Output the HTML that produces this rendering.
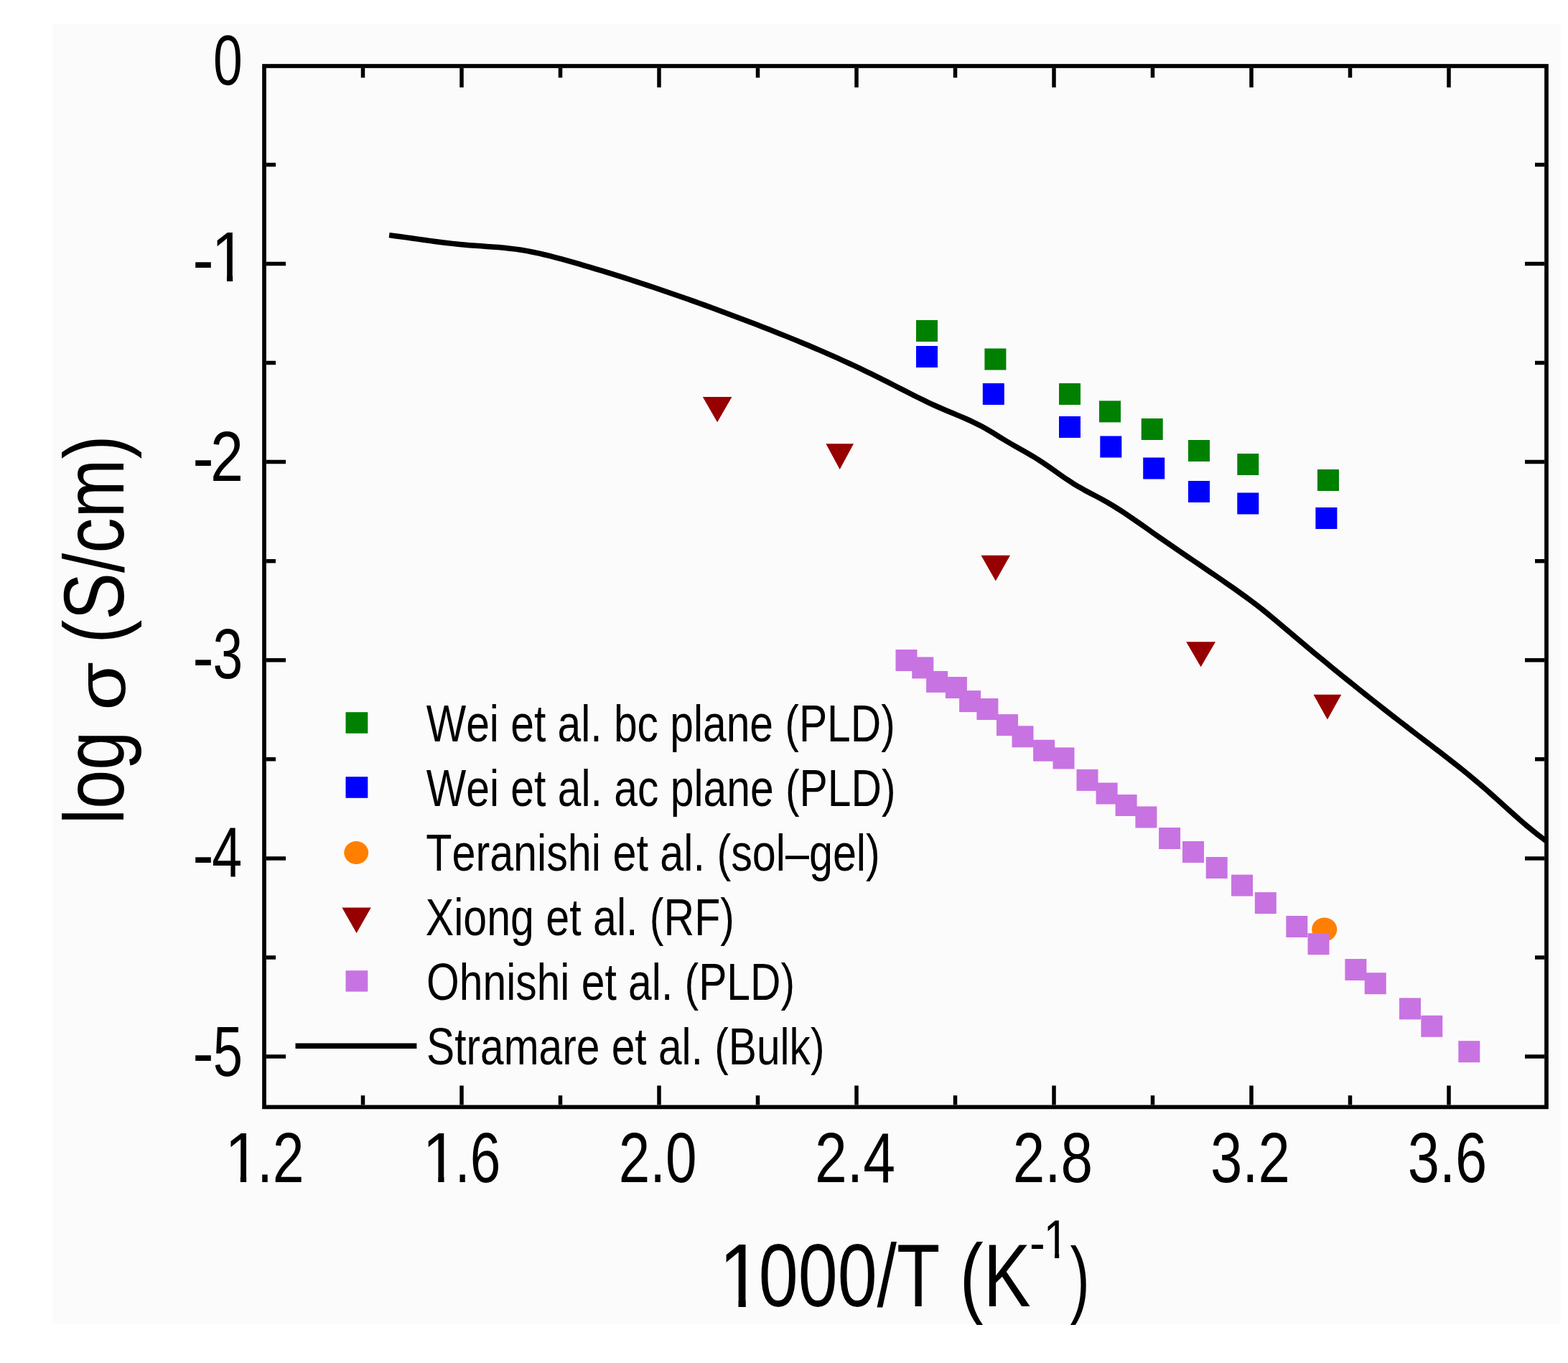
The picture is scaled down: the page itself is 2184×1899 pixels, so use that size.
<!DOCTYPE html>
<html><head><meta charset="utf-8"><title>log sigma vs 1000/T</title>
<style>
html,body{margin:0;padding:0;background:#fff;}
svg{display:block;}
text{font-family:"Liberation Sans",Arial,sans-serif;fill:#000;font-kerning:none;}
</style></head><body>
<svg width="2184" height="1899" viewBox="0 0 2184 1899">
<defs>
<clipPath id="c0"><rect x="294.40" y="315.90" width="37.50" height="67.32"/><rect x="315.95" y="315.90" width="8.20" height="83.80"/></clipPath>
<clipPath id="c1"><rect x="313.10" y="1570.70" width="37.80" height="67.59"/><rect x="334.84" y="1570.70" width="8.31" height="84.10"/></clipPath>
<clipPath id="c2"><rect x="588.50" y="1570.70" width="37.80" height="67.59"/><rect x="610.24" y="1570.70" width="8.31" height="84.10"/></clipPath>
<clipPath id="c3"><rect x="1003.30" y="1726.20" width="43.20" height="83.95"/><rect x="1028.50" y="1726.20" width="10.25" height="102.80"/></clipPath>
<clipPath id="c4"><rect x="1451.40" y="1693.20" width="31.50" height="53.41"/><rect x="1469.10" y="1693.20" width="6.05" height="67.90"/></clipPath>
</defs>
<rect x="0" y="0" width="2184" height="1899" fill="#ffffff"/>
<rect x="73" y="33" width="2101" height="1812" fill="#fcfbfc"/>
<path d="M542.1,327.62 L550.1,328.66 L558.1,329.73 L566.1,330.84 L574.1,331.96 L582.1,333.1 L590.1,334.23 L598.1,335.34 L606.1,336.42 L614.1,337.47 L622.1,338.46 L630.1,339.39 L638.1,340.24 L646.1,341.0 L654.1,341.67 L662.1,342.28 L670.1,342.84 L678.1,343.39 L686.1,343.97 L694.1,344.61 L702.1,345.32 L710.1,346.16 L718.1,347.14 L726.1,348.31 L734.1,349.66 L742.1,351.2 L750.1,352.9 L758.1,354.74 L766.1,356.7 L774.1,358.77 L782.1,360.92 L790.1,363.14 L798.1,365.41 L806.1,367.71 L814.1,370.04 L822.1,372.4 L830.1,374.79 L838.1,377.21 L846.1,379.66 L854.1,382.14 L862.1,384.65 L870.1,387.19 L878.1,389.75 L886.1,392.34 L894.1,394.96 L902.1,397.6 L910.1,400.27 L918.1,402.96 L926.1,405.68 L934.1,408.43 L942.1,411.2 L950.1,413.99 L958.1,416.81 L966.1,419.65 L974.1,422.51 L982.1,425.4 L990.1,428.31 L998.1,431.24 L1006.1,434.19 L1014.1,437.17 L1022.1,440.16 L1030.1,443.18 L1038.1,446.21 L1046.1,449.27 L1054.1,452.34 L1062.1,455.44 L1070.1,458.57 L1078.1,461.72 L1086.1,464.9 L1094.1,468.12 L1102.1,471.36 L1110.1,474.64 L1118.1,477.96 L1126.1,481.31 L1134.1,484.7 L1142.1,488.13 L1150.1,491.61 L1158.1,495.13 L1166.1,498.69 L1174.1,502.31 L1182.1,505.97 L1190.1,509.68 L1198.1,513.45 L1206.1,517.27 L1214.1,521.15 L1222.1,525.09 L1230.1,529.09 L1238.1,533.15 L1246.1,537.24 L1254.1,541.35 L1262.1,545.45 L1270.1,549.51 L1278.1,553.52 L1286.1,557.45 L1294.1,561.28 L1302.1,564.98 L1310.1,568.53 L1318.1,571.95 L1326.1,575.28 L1334.1,578.62 L1342.1,582.02 L1350.1,585.55 L1358.1,589.29 L1366.1,593.31 L1374.1,597.67 L1382.1,602.44 L1390.1,607.46 L1398.1,612.41 L1406.1,617.14 L1414.1,621.7 L1422.1,626.2 L1430.1,630.73 L1438.1,635.41 L1446.1,640.34 L1454.1,645.6 L1462.1,651.13 L1470.1,656.79 L1478.1,662.45 L1486.1,667.98 L1494.1,673.24 L1502.1,678.1 L1510.1,682.58 L1518.1,686.83 L1526.1,691.0 L1534.1,695.25 L1542.1,699.74 L1550.1,704.5 L1558.1,709.51 L1566.1,714.71 L1574.1,720.08 L1582.1,725.57 L1590.1,731.16 L1598.1,736.8 L1606.1,742.46 L1614.1,748.09 L1622.1,753.67 L1630.1,759.2 L1638.1,764.69 L1646.1,770.15 L1654.1,775.58 L1662.1,781.01 L1670.1,786.42 L1678.1,791.85 L1686.1,797.29 L1694.1,802.75 L1702.1,808.25 L1710.1,813.8 L1718.1,819.4 L1726.1,825.07 L1734.1,830.84 L1742.1,836.74 L1750.1,842.8 L1758.1,849.07 L1766.1,855.53 L1774.1,862.16 L1782.1,868.89 L1790.1,875.68 L1798.1,882.46 L1806.1,889.22 L1814.1,895.94 L1822.1,902.62 L1830.1,909.27 L1838.1,915.89 L1846.1,922.48 L1854.1,929.03 L1862.1,935.56 L1870.1,942.05 L1878.1,948.51 L1886.1,954.95 L1894.1,961.35 L1902.1,967.72 L1910.1,974.07 L1918.1,980.39 L1926.1,986.68 L1934.1,992.94 L1942.1,999.17 L1950.1,1005.38 L1958.1,1011.57 L1966.1,1017.73 L1974.1,1023.86 L1982.1,1029.97 L1990.1,1036.07 L1998.1,1042.18 L2006.1,1048.31 L2014.1,1054.48 L2022.1,1060.71 L2030.1,1067.02 L2038.1,1073.42 L2046.1,1079.93 L2054.1,1086.56 L2062.1,1093.34 L2070.1,1100.28 L2078.1,1107.38 L2086.1,1114.56 L2094.1,1121.79 L2102.1,1129.02 L2110.1,1136.17 L2118.1,1143.21 L2126.1,1150.08 L2134.1,1156.73 L2142.1,1163.09 L2150.1,1169.13 L2154.0,1171.93" fill="none" stroke="#000" stroke-width="7.5" stroke-linejoin="round"/>
<rect x="368.0" y="92.0" width="1786.0" height="1450.4" fill="none" stroke="#000" stroke-width="5.7"/>
<path d="M505.5,1539.6000000000001V1526.2M505.5,94.8V108.2M643.0,1539.6000000000001V1512.6000000000001M643.0,94.8V121.8M780.5,1539.6000000000001V1526.2M780.5,94.8V108.2M918.0,1539.6000000000001V1512.6000000000001M918.0,94.8V121.8M1055.5,1539.6000000000001V1526.2M1055.5,94.8V108.2M1193.0,1539.6000000000001V1512.6000000000001M1193.0,94.8V121.8M1330.5,1539.6000000000001V1526.2M1330.5,94.8V108.2M1468.0,1539.6000000000001V1512.6000000000001M1468.0,94.8V121.8M1605.5,1539.6000000000001V1526.2M1605.5,94.8V108.2M1743.0,1539.6000000000001V1512.6000000000001M1743.0,94.8V121.8M1880.5,1539.6000000000001V1526.2M1880.5,94.8V108.2M2018.0,1539.6000000000001V1512.6000000000001M2018.0,94.8V121.8M370.8,229.4H384.0M2151.2,229.4H2138.0M370.8,367.4H398.0M2151.2,367.4H2124.0M370.8,505.5H384.0M2151.2,505.5H2138.0M370.8,643.6H398.0M2151.2,643.6H2124.0M370.8,781.7H384.0M2151.2,781.7H2138.0M370.8,919.7H398.0M2151.2,919.7H2124.0M370.8,1057.8H384.0M2151.2,1057.8H2138.0M370.8,1195.9H398.0M2151.2,1195.9H2124.0M370.8,1334.0H384.0M2151.2,1334.0H2138.0M370.8,1472.0H398.0M2151.2,1472.0H2124.0" stroke="#000" stroke-width="5.5" fill="none"/>
<text transform="translate(296.97,117.70) scale(0.7400,1)" font-size="99">0</text>
<text transform="translate(268.31,395.22) scale(0.8947,1)" font-size="99">-</text>
<g clip-path="url(#c0)"><text transform="translate(294.30,391.70) scale(0.8833,1)" font-size="98.55">1</text></g>
<text transform="translate(268.31,670.52) scale(0.8947,1)" font-size="99">-</text>
<text transform="translate(292.96,669.80) scale(0.8369,1)" font-size="99">2</text>
<text transform="translate(268.31,949.12) scale(0.8947,1)" font-size="99">-</text>
<text transform="translate(296.60,944.90) scale(0.7565,1)" font-size="99">3</text>
<text transform="translate(268.31,1224.22) scale(0.8947,1)" font-size="99">-</text>
<text transform="translate(295.22,1220.90) scale(0.7616,1)" font-size="99">4</text>
<text transform="translate(268.31,1500.02) scale(0.8947,1)" font-size="99">-</text>
<text transform="translate(296.64,1498.50) scale(0.7485,1)" font-size="99">5</text>
<g clip-path="url(#c1)"><text transform="translate(312.89,1646.80) scale(0.8917,1)" font-size="98.98">1</text></g>
<g clip-path="url(#c2)"><text transform="translate(588.29,1646.80) scale(0.8917,1)" font-size="98.98">1</text></g>
<text transform="translate(357.90,1646.80) scale(0.7965,1)" font-size="99">.2</text>
<text transform="translate(633.51,1646.80) scale(0.7734,1)" font-size="99">.6</text>
<text transform="translate(861.68,1646.80) scale(0.7910,1)" font-size="99">2.0</text>
<text transform="translate(1134.97,1646.80) scale(0.8142,1)" font-size="99">2.4</text>
<text transform="translate(1410.80,1646.80) scale(0.8089,1)" font-size="99">2.8</text>
<text transform="translate(1686.01,1646.80) scale(0.8050,1)" font-size="99">3.2</text>
<text transform="translate(1960.82,1646.80) scale(0.8027,1)" font-size="99">3.6</text>
<g clip-path="url(#c3)"><text transform="translate(1001.06,1821.00) scale(0.8729,1)" font-size="126.16">1</text></g>
<text transform="translate(1056.85,1820.00) scale(0.7932,1)" font-size="124.5">000/T (K</text>
<text transform="translate(1434.06,1756.56) scale(0.8707,1)" font-size="75">-</text>
<g clip-path="url(#c4)"><text transform="translate(1453.56,1753.10) scale(0.8319,1)" font-size="75.44">1</text></g>
<text transform="translate(1490.58,1821.00) scale(0.6943,1)" font-size="118">)</text>
<text transform="translate(171.50,1148.31) rotate(-90) scale(0.8228,1)" font-size="118">log</text>
<text transform="translate(173.70,990.01) rotate(-90) scale(1.1477,1)" font-size="96">σ</text>
<text transform="translate(171.50,896.51) rotate(-90) scale(0.8348,1)" font-size="118">(S/cm)</text>
<text transform="translate(593.71,1032.70) scale(0.8161,1)" font-size="72">Wei et al. bc plane (PLD)</text>
<text transform="translate(593.71,1122.60) scale(0.8171,1)" font-size="72">Wei et al. ac plane (PLD)</text>
<text transform="translate(593.22,1212.70) scale(0.8234,1)" font-size="72">Teranishi et al. (sol–gel)</text>
<text transform="translate(592.72,1302.70) scale(0.8210,1)" font-size="72">Xiong et al. (RF)</text>
<text transform="translate(594.05,1392.70) scale(0.8169,1)" font-size="72">Ohnishi et al. (PLD)</text>
<text transform="translate(594.06,1482.60) scale(0.8153,1)" font-size="72">Stramare et al. (Bulk)</text>
<path d="M411.5,1457.2H580.4" stroke="#000" stroke-width="7.5"/>
<rect x="1276.0" y="446.0" width="30" height="30" fill="#008000"/>
<rect x="1371.4" y="485.5" width="30" height="30" fill="#008000"/>
<rect x="1475.0" y="534.0" width="30" height="30" fill="#008000"/>
<rect x="1531.0" y="558.4" width="30" height="30" fill="#008000"/>
<rect x="1589.7" y="583.0" width="30" height="30" fill="#008000"/>
<rect x="1655.0" y="613.0" width="30" height="30" fill="#008000"/>
<rect x="1723.3" y="632.0" width="30" height="30" fill="#008000"/>
<rect x="1835.0" y="654.0" width="30" height="30" fill="#008000"/>
<rect x="1276.0" y="482.0" width="30" height="30" fill="#0000ff"/>
<rect x="1368.8" y="534.0" width="30" height="30" fill="#0000ff"/>
<rect x="1475.0" y="580.0" width="30" height="30" fill="#0000ff"/>
<rect x="1532.3" y="607.5" width="30" height="30" fill="#0000ff"/>
<rect x="1592.2" y="637.5" width="30" height="30" fill="#0000ff"/>
<rect x="1655.0" y="670.0" width="30" height="30" fill="#0000ff"/>
<rect x="1723.3" y="686.5" width="30" height="30" fill="#0000ff"/>
<rect x="1832.4" y="707.0" width="30" height="30" fill="#0000ff"/>
<ellipse cx="1844.7" cy="1295" rx="17.6" ry="16.6" fill="#ff8000"/>
<path d="M978.8,553H1019.4L999.1,588.2Z" fill="#960000"/>
<path d="M1150.4,618.2H1189L1169.7,653.9Z" fill="#960000"/>
<path d="M1366.5,773.7H1407L1386.8,809.6Z" fill="#960000"/>
<path d="M1652.2,894.2H1693L1672.6,929.3Z" fill="#960000"/>
<path d="M1829.5,967.7H1868.3L1848.9,1002.6Z" fill="#960000"/>
<rect x="1247.5" y="905.0" width="30" height="30" fill="#c873e2"/>
<rect x="1270.3" y="915.4" width="30" height="30" fill="#c873e2"/>
<rect x="1290.1" y="934.9" width="30" height="30" fill="#c873e2"/>
<rect x="1316.9" y="943.0" width="30" height="30" fill="#c873e2"/>
<rect x="1336.1" y="962.1" width="30" height="30" fill="#c873e2"/>
<rect x="1360.4" y="973.0" width="30" height="30" fill="#c873e2"/>
<rect x="1388.0" y="995.1" width="30" height="30" fill="#c873e2"/>
<rect x="1409.5" y="1011.3" width="30" height="30" fill="#c873e2"/>
<rect x="1439.1" y="1030.7" width="30" height="30" fill="#c873e2"/>
<rect x="1466.5" y="1041.4" width="30" height="30" fill="#c873e2"/>
<rect x="1499.5" y="1071.9" width="30" height="30" fill="#c873e2"/>
<rect x="1526.6" y="1090.5" width="30" height="30" fill="#c873e2"/>
<rect x="1553.6" y="1107.0" width="30" height="30" fill="#c873e2"/>
<rect x="1581.4" y="1123.5" width="30" height="30" fill="#c873e2"/>
<rect x="1614.1" y="1153.0" width="30" height="30" fill="#c873e2"/>
<rect x="1647.0" y="1172.0" width="30" height="30" fill="#c873e2"/>
<rect x="1679.7" y="1194.0" width="30" height="30" fill="#c873e2"/>
<rect x="1715.0" y="1218.6" width="30" height="30" fill="#c873e2"/>
<rect x="1747.8" y="1243.1" width="30" height="30" fill="#c873e2"/>
<rect x="1791.3" y="1276.0" width="30" height="30" fill="#c873e2"/>
<rect x="1821.5" y="1300.2" width="30" height="30" fill="#c873e2"/>
<rect x="1873.4" y="1336.0" width="30" height="30" fill="#c873e2"/>
<rect x="1900.7" y="1355.2" width="30" height="30" fill="#c873e2"/>
<rect x="1949.0" y="1390.4" width="30" height="30" fill="#c873e2"/>
<rect x="1979.3" y="1414.8" width="30" height="30" fill="#c873e2"/>
<rect x="2031.3" y="1450.2" width="30" height="30" fill="#c873e2"/>
<rect x="481.5" y="992.2" width="30.8" height="29.6" fill="#008000"/>
<rect x="481.5" y="1082.2" width="30.8" height="29.6" fill="#0000ff"/>
<ellipse cx="496.2" cy="1188" rx="17" ry="16" fill="#ff8000"/>
<path d="M476.4,1264.6H516.8L496.6,1300.1Z" fill="#960000"/>
<rect x="481.5" y="1352.2" width="30.8" height="29.4" fill="#c873e2"/>
</svg>
</body></html>
